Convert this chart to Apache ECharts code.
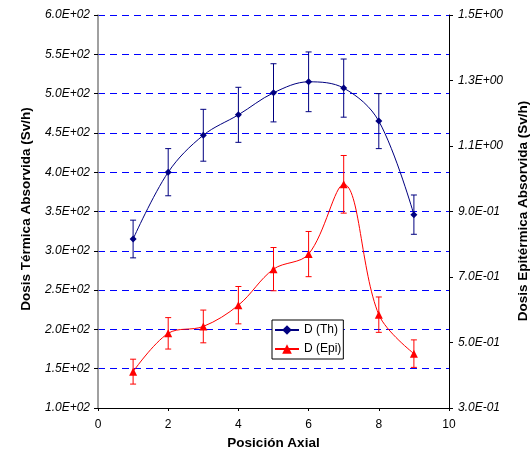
<!DOCTYPE html>
<html>
<head>
<meta charset="utf-8">
<script src="https://cdn.jsdelivr.net/npm/echarts@6/dist/echarts.min.js"></script>
<style>
html,body{margin:0;padding:0;background:#fff;}
#c{width:530px;height:457px;}
</style>
</head>
<body>
<div id="c"></div>
<script>
// ---- data ----
const positions = [1, 2, 3, 4, 5, 6, 7, 8, 9];
const thValues = [315, 400, 447, 473, 501, 515, 507, 465, 346];
const thErrors = [24, 30, 33, 35, 37, 38, 37, 35, 25];
const epiValues = [0.411, 0.528, 0.549, 0.614, 0.724, 0.770, 0.983, 0.585, 0.466];
const epiErrors = [0.038, 0.048, 0.050, 0.057, 0.066, 0.069, 0.088, 0.054, 0.042];
const rightTicks = [0.3, 0.5, 0.7, 0.9, 1.1, 1.3, 1.5];
const seriesNames = ['D (Th)', 'D (Epi)'];
const xTitle = 'Posición Axial';
const yLeftTitle = 'Dosis Térmica Absorvida (Sv/h)';
const yRightTitle = 'Dosis Epitérmica Absorvida (Sv/h)';

const FONT = "'Liberation Sans', Arial, sans-serif";

function sci(v) {
  if (v === 0) return '0.0E+00';
  let e = Math.floor(Math.log10(Math.abs(v)) + 1e-9);
  let m = v / Math.pow(10, e);
  let s = m.toFixed(1);
  if (s === '10.0') { e++; s = (m / 10).toFixed(1); }
  return s + 'E' + (e < 0 ? '-' : '+') + String(Math.abs(e)).padStart(2, '0');
}

function errData(vals, errs) {
  return positions.map((x, i) => [x, vals[i] - errs[i], vals[i] + errs[i]]);
}

function errRender(color) {
  return function (params, api) {
    const x = api.value(0);
    const lo = api.coord([x, api.value(1)]);
    const hi = api.coord([x, api.value(2)]);
    const w = 3;
    const st = { stroke: color, lineWidth: 1 };
    return {
      type: 'group',
      children: [
        { type: 'line', shape: { x1: lo[0], y1: lo[1], x2: hi[0], y2: hi[1] }, style: st },
        { type: 'line', shape: { x1: lo[0] - w, y1: lo[1], x2: lo[0] + w, y2: lo[1] }, style: st },
        { type: 'line', shape: { x1: hi[0] - w, y1: hi[1], x2: hi[0] + w, y2: hi[1] }, style: st }
      ]
    };
  };
}

const chart = echarts.init(document.getElementById('c'), null, { renderer: 'canvas' });
chart.setOption({
  animation: false,
  backgroundColor: '#fff',
  textStyle: { fontFamily: FONT },
  grid: { left: 98, right: 81, top: 15, bottom: 49, containLabel: false },
  xAxis: {
    type: 'value', min: 0, max: 10, interval: 2,
    axisLine: { show: true, lineStyle: { color: '#000', width: 1 } },
    axisTick: { show: true, inside: false, length: 3, lineStyle: { color: '#000' } },
    axisLabel: { color: '#000', fontSize: 12, fontFamily: FONT, margin: 11 },
    splitLine: { show: false },
    name: xTitle, nameLocation: 'middle', nameGap: 26,
    nameTextStyle: { color: '#000', fontSize: 13.5, fontWeight: 'bold', fontFamily: FONT }
  },
  yAxis: [
    {
      type: 'value', min: 100, max: 600, interval: 50, position: 'left',
      axisLine: { show: true, lineStyle: { color: '#808080', width: 1.5 } },
      axisTick: { show: true, inside: false, length: 4, lineStyle: { color: '#000' } },
      axisLabel: { color: '#000', fontSize: 12, fontStyle: 'italic', fontFamily: FONT, margin: 8, formatter: sci },
      splitLine: { show: true, lineStyle: { color: '#0000ff', width: 1, type: [7, 5] } }
    },
    {
      type: 'value', min: 0.3, max: 1.5, position: 'right',
      axisLine: { show: true, lineStyle: { color: '#000', width: 1 } },
      axisTick: { show: true, inside: false, length: 4, customValues: rightTicks, lineStyle: { color: '#000' } },
      axisLabel: { color: '#000', fontSize: 12, fontStyle: 'italic', fontFamily: FONT, margin: 9, customValues: rightTicks, formatter: sci },
      splitLine: { show: false }
    }
  ],
  legend: {
    data: seriesNames,
    orient: 'vertical',
    left: 272, top: 320,
    backgroundColor: '#fff',
    borderColor: '#000', borderWidth: 1, borderRadius: 0,
    padding: [4, 2, 4, 2],
    itemWidth: 24, itemHeight: 12, itemGap: 7,
    textStyle: { color: '#000', fontSize: 12, fontFamily: FONT }
  },
  graphic: [
    {
      type: 'text', x: 26, y: 209, rotation: Math.PI / 2,
      style: { text: yLeftTitle, font: 'bold 13.5px ' + FONT, fill: '#000', align: 'center', verticalAlign: 'middle' }
    },
    {
      type: 'text', x: 523, y: 211, rotation: Math.PI / 2,
      style: { text: yRightTitle, font: 'bold 13.5px ' + FONT, fill: '#000', align: 'center', verticalAlign: 'middle' }
    }
  ],
  series: [
    {
      type: 'custom', name: 'thErr', yAxisIndex: 0, z: 3, silent: true,
      renderItem: errRender('#000080'),
      encode: { x: 0, y: [1, 2] },
      data: errData(thValues, thErrors)
    },
    {
      type: 'custom', name: 'epiErr', yAxisIndex: 1, z: 3, silent: true,
      renderItem: errRender('#ff0000'),
      encode: { x: 0, y: [1, 2] },
      data: errData(epiValues, epiErrors)
    },
    {
      type: 'line', name: seriesNames[0], yAxisIndex: 0, z: 5,
      smooth: 0.35,
      symbol: 'diamond', symbolSize: 7,
      lineStyle: { color: '#000080', width: 1 },
      itemStyle: { color: '#000080' },
      data: positions.map((x, i) => [x, thValues[i]])
    },
    {
      type: 'line', name: seriesNames[1], yAxisIndex: 1, z: 5,
      smooth: 0.35,
      symbol: 'triangle', symbolSize: 8,
      lineStyle: { color: '#ff0000', width: 1 },
      itemStyle: { color: '#ff0000' },
      data: positions.map((x, i) => [x, epiValues[i]])
    }
  ]
});
</script>
</body>
</html>
